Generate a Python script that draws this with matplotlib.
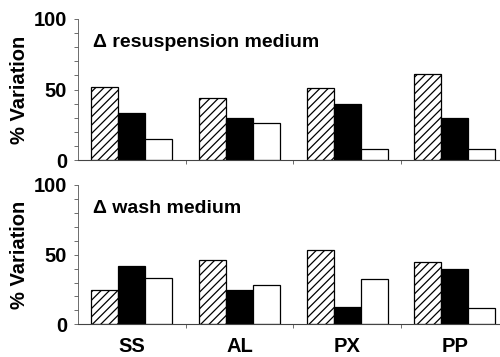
import matplotlib
matplotlib.use("Agg")
import matplotlib.pyplot as plt
import numpy as np

categories = ["SS", "AL", "PX", "PP"]
resusp_hatched = [52, 44, 51, 61]
resusp_black = [33, 29.5, 39.5, 29.5]
resusp_white = [15, 26.5, 7.5, 7.5]
wash_hatched = [24.5, 46, 53.5, 45]
wash_black = [42, 24.5, 12.5, 40]
wash_white = [33.5, 28, 32.5, 11.5]
titles = ["\u0394 resuspension medium", "\u0394 wash medium"]
ylabel = "% Variation"

plt.rcParams["font.family"] = ["Liberation Sans", "DejaVu Sans"]
plt.rcParams["hatch.linewidth"] = 0.9

fig = plt.figure(figsize=(5.0, 3.57), dpi=100)
left = 78 / 500
width = 1 - left
ax_top = fig.add_axes([left, 1 - 160 / 357, width, (160 - 19) / 357])
ax_bot = fig.add_axes([left, 1 - 324.3 / 357, width, (324.3 - 185) / 357])

x = np.arange(len(categories))
w = 0.25

for ax, (h, b, wh), title, show_x in [
    (ax_top, (resusp_hatched, resusp_black, resusp_white), titles[0], False),
    (ax_bot, (wash_hatched, wash_black, wash_white), titles[1], True),
]:
    ax.bar(x - w, h, w, facecolor="white", edgecolor="black", hatch="////", linewidth=0.9)
    ax.bar(x, b, w, facecolor="black", edgecolor="black", linewidth=0.9)
    ax.bar(x + w, wh, w, facecolor="white", edgecolor="black", linewidth=0.9)
    ax.set_xlim(-0.5, 3.42)
    ax.set_ylim(0, 100)
    for s in ["top", "right"]:
        ax.spines[s].set_visible(False)
    ax.spines["left"].set_linewidth(0.6)
    ax.spines["left"].set_color("#555555")
    ax.spines["bottom"].set_linewidth(0.8)
    ax.spines["bottom"].set_color("#444444")
    ax.set_yticks([0, 50, 100])
    ax.set_yticks(np.arange(0, 101, 10), minor=True)
    ax.tick_params(axis="y", which="both", direction="out", length=3, width=0.6,
                   color="#555555", pad=5, labelsize=14.5)
    ax.set_yticklabels(["0", "50", "100"], fontweight="bold")
    ax.set_xticks([0.5, 1.5, 2.5], minor=True)
    ax.tick_params(axis="x", which="minor", direction="out", length=3, width=0.6, color="#555555")
    ax.set_xticks(x)
    if show_x:
        ax.set_xticklabels(categories, fontweight="bold", fontsize=14.5)
        ax.tick_params(axis="x", which="major", length=0, pad=9.5)
    else:
        ax.set_xticklabels([])
        ax.tick_params(axis="x", which="major", length=0)
    ax.set_ylabel(ylabel, fontweight="bold", fontsize=14.5, labelpad=3)
    ax.text(0.035, 0.83, title, transform=ax.transAxes, fontsize=14, fontweight="bold",
            ha="left", va="center")

fig.savefig("out.png", dpi=100)
